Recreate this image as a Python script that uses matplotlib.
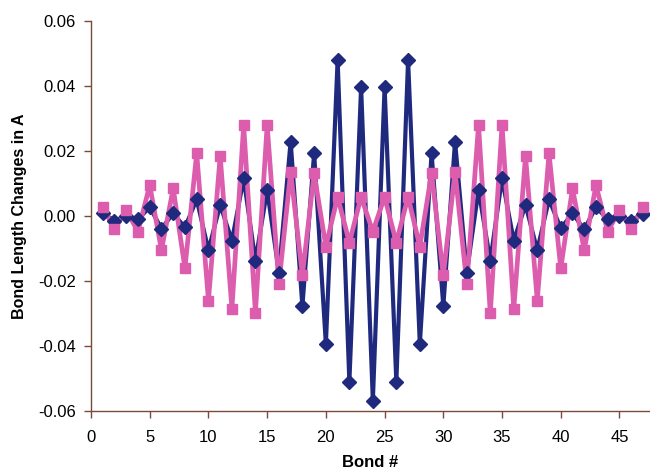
import matplotlib
matplotlib.use("Agg")
import matplotlib.pyplot as plt

plt.rcParams['font.family'] = ['Liberation Sans', 'DejaVu Sans']

bonds = list(range(1, 48))
blue_vals = [0.0008, -0.0014, 0.0000, -0.0010, 0.0027, -0.0039, 0.0008, -0.0035,
             0.0051, -0.0105, 0.0034, -0.0076, 0.0116, -0.0138, 0.0080, -0.0174,
             0.0229, -0.0277, 0.0193, -0.0394, 0.0480, -0.0510, 0.0396, -0.0568,
             0.0396, -0.0510, 0.0480, -0.0394, 0.0193, -0.0277, 0.0229, -0.0174,
             0.0080, -0.0138, 0.0116, -0.0076, 0.0034, -0.0105, 0.0051, -0.0038,
             0.0008, -0.0041, 0.0027, -0.0010, 0.0000, -0.0014, 0.0007]
pink_vals = [0.0029, -0.0041, 0.0018, -0.0048, 0.0095, -0.0105, 0.0085, -0.0161,
             0.0193, -0.0260, 0.0185, -0.0285, 0.0280, -0.0297, 0.0280, -0.0209,
             0.0136, -0.0182, 0.0131, -0.0094, 0.0059, -0.0082, 0.0059, -0.0048,
             0.0059, -0.0082, 0.0059, -0.0094, 0.0131, -0.0182, 0.0136, -0.0209,
             0.0280, -0.0299, 0.0280, -0.0285, 0.0185, -0.0260, 0.0193, -0.0161,
             0.0085, -0.0105, 0.0095, -0.0048, 0.0018, -0.0041, 0.0029]
x_ticks = [0, 5, 10, 15, 20, 25, 30, 35, 40, 45]
y_ticks = [-0.06, -0.04, -0.02, 0.00, 0.02, 0.04, 0.06]

fig = plt.figure(figsize=(6.5, 4.73), dpi=100)
ax = fig.add_axes([0.14, 0.131, 0.86, 0.8247])

blue = '#1F2A7E'
pink = '#DC5DAE'
# lines first, then markers (Excel-like drawing order)
ax.plot(bonds, blue_vals, color=blue, lw=3.0, zorder=2, clip_on=False)
ax.plot(bonds, pink_vals, color=pink, lw=3.4, zorder=2.1, clip_on=False)
ax.plot(bonds, blue_vals, ls='none', marker='D', ms=7.5,
        mec=blue, mfc=blue, zorder=3, clip_on=False)
ax.plot(bonds, pink_vals, ls='none', marker='s', ms=7.5,
        mec=pink, mfc=pink, zorder=3.1, clip_on=False)

ax.set_xlim(0, 47.6)
ax.set_ylim(-0.06, 0.06)
ax.set_xticks(x_ticks)
ax.set_yticks(y_ticks)
ax.set_yticklabels([f"{v:.2f}" for v in y_ticks])

axcol = '#7A4A3C'
for s in ['top', 'right']:
    ax.spines[s].set_visible(False)
for s in ['left', 'bottom']:
    ax.spines[s].set_color(axcol)
    ax.spines[s].set_linewidth(1.0)
ax.tick_params(axis='both', direction='out', length=5, width=1.0,
               color=axcol, labelsize=12, labelcolor='black')
ax.tick_params(axis='x', pad=9)
ax.tick_params(axis='y', pad=6)

ax.set_xlabel('Bond #', fontsize=12, fontweight='bold', labelpad=7)
ax.set_ylabel('Bond Length Changes in A', fontsize=11.5, fontweight='bold', labelpad=8)

fig.savefig('out.png', dpi=100)
